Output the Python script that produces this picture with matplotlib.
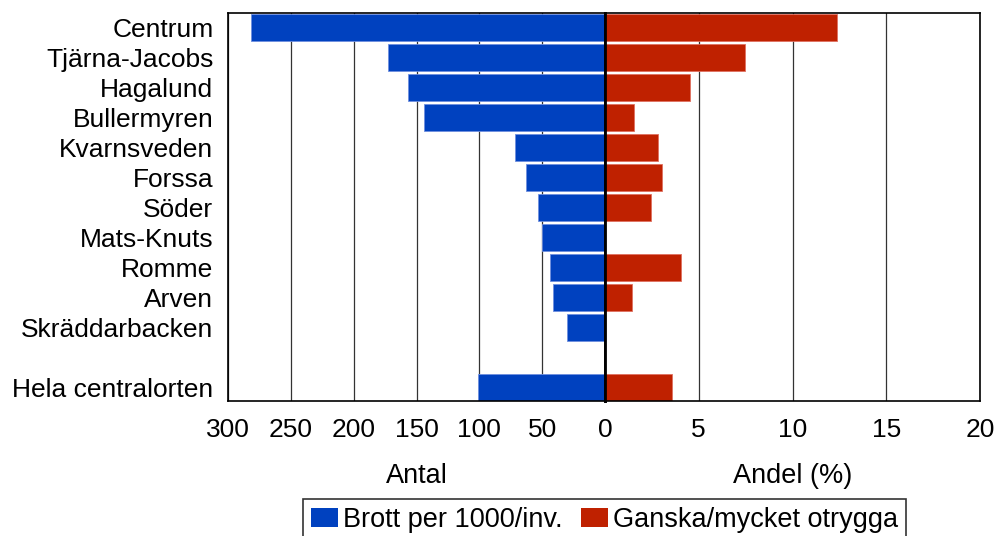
import numpy as np
import matplotlib
matplotlib.use('Agg')
import matplotlib.pyplot as plt
from matplotlib.patches import Patch

plt.rcParams['font.family'] = ['Liberation Sans', 'DejaVu Sans']

areas = ['Centrum', 'Tjärna-Jacobs', 'Hagalund', 'Bullermyren', 'Kvarnsveden',
         'Forssa', 'Söder', 'Mats-Knuts', 'Romme', 'Arven', 'Skräddarbacken',
         'Hela centralorten']
brott = [282, 173, 157, 144, 72, 63, 53, 50, 44, 41, 30, 101]
otrygga = [12.35, 7.45, 4.55, 1.55, 2.85, 3.05, 2.45, 0, 4.05, 1.45, 0, 3.55]
left_ticks = [300, 250, 200, 150, 100, 50, 0]
right_ticks = [0, 5, 10, 15, 20]

blue = '#0041bf'
red = '#bf2100'
fs = 19
fs_leg = 19.5

# row positions, with a gap before the total
ypos = np.array(list(range(len(areas) - 1)) + [len(areas)])

fig = plt.figure(figsize=(9.96, 5.36), dpi=100)
W, H = 996, 536
x0, xm, x1 = 228, 605, 980
ytop, ybot = 12.5, 401
axl = fig.add_axes([x0 / W, 1 - ybot / H, (xm - x0) / W, (ybot - ytop) / H])
axr = fig.add_axes([xm / W, 1 - ybot / H, (x1 - xm) / W, (ybot - ytop) / H])

axl.barh(ypos, brott, height=0.9, color=blue, edgecolor='#6f8fdf', linewidth=0.6, zorder=2)
axr.barh(ypos, otrygga, height=0.9, color=red, edgecolor='#e07060', linewidth=0.6, zorder=2)

axl.set_xlim(300, 0)
axr.set_xlim(0, 20)
for ax in (axl, axr):
    ax.set_ylim(12.45, -0.5)
    ax.tick_params(axis='both', length=0, labelsize=fs)
    ax.tick_params(axis='x', pad=12)
    ax.grid(axis='x', color='#333333', linewidth=0.9, zorder=0)
    ax.set_axisbelow(True)
    for s in ax.spines.values():
        s.set_linewidth(1.2)

axl.set_xticks(left_ticks)
axr.set_xticks(right_ticks)
axr.set_xticklabels([''] + [str(t) for t in right_ticks[1:]])
axl.set_yticks(ypos)
axl.set_yticklabels(areas)
axl.tick_params(axis='y', pad=10.5)
axr.set_yticks([])
axl.spines['right'].set_linewidth(2)
axr.spines['left'].set_linewidth(2)

# axis titles under each panel
fig.text((x0 + xm) / 2 / W, 1 - 483 / H, 'Antal', fontsize=fs_leg, ha='center', va='baseline')
fig.text((xm + x1) / 2 / W, 1 - 483 / H, 'Andel (%)', fontsize=fs_leg, ha='center', va='baseline')

handles = [Patch(facecolor=blue, edgecolor='none', label='Brott per 1000/inv.'),
           Patch(facecolor=red, edgecolor='none', label='Ganska/mycket otrygga')]
leg = fig.legend(handles=handles, loc='upper center', bbox_to_anchor=(604.5 / W, 1 - 499 / H),
                 ncol=2, fontsize=fs_leg, frameon=True, fancybox=False, edgecolor='black',
                 handlelength=1.0, handleheight=0.7, handletextpad=0.17, columnspacing=0.71,
                 borderpad=0.3, borderaxespad=0)
leg.get_frame().set_linewidth(1.2)

fig.savefig('out.png', dpi=100)
